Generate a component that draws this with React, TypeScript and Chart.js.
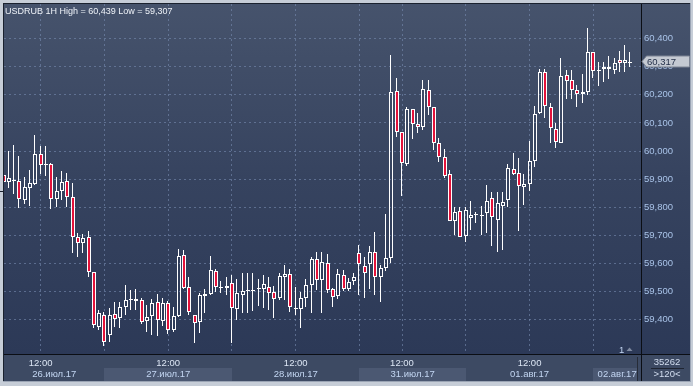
import React, { useEffect, useRef } from 'react';
import { Chart, registerables } from 'chart.js';

Chart.register(...registerables);

// ---- data (USDRUB, 1H candles) ----
const opens = [
  59.915, 59.891, 59.892, 59.893, 59.825, 59.867, 59.881, 59.989, 59.949, 59.954,
  59.828, 59.859, 59.893, 59.835, 59.693, 59.672, 59.694, 59.568, 59.374, 59.416,
  59.345, 59.418, 59.404, 59.443, 59.469, 59.472, 59.468, 59.394, 59.412, 59.461,
  59.395, 59.458, 59.364, 59.411, 59.629, 59.515, 59.415, 59.390, 59.484, 59.490,
  59.574, 59.511, 59.513, 59.529, 59.436, 59.488, 59.501, 59.503, 59.509, 59.508,
  59.516, 59.497, 59.476, 59.552, 59.561, 59.436, 59.437, 59.476, 59.522, 59.614,
  59.541, 59.600, 59.508, 59.482, 59.558, 59.510, 59.538, 59.636, 59.592, 59.597,
  59.639, 59.550, 59.582, 59.618, 60.213, 60.067, 59.954, 60.149, 60.095, 60.087,
  60.216, 60.156, 60.027, 59.980, 59.917, 59.752, 59.785, 59.698, 59.760, 59.771,
  59.769, 59.781, 59.832, 59.755, 59.805, 59.824, 59.935, 59.921, 59.873, 59.882,
  59.963, 60.134, 60.280, 60.156, 60.078, 60.030, 60.270, 60.252, 60.217, 60.203,
  60.209, 60.352, 60.285, 60.298, 60.298, 60.287, 60.323, 60.312, 60.314,
];
const highs = [
  59.922, 60.001, 60.021, 59.982, 59.906, 59.932, 60.057, 60.018, 60.018, 59.957,
  59.909, 59.929, 59.923, 59.887, 59.707, 59.704, 59.716, 59.570, 59.434, 59.428,
  59.441, 59.464, 59.464, 59.523, 59.505, 59.508, 59.476, 59.452, 59.472, 59.490,
  59.476, 59.466, 59.446, 59.651, 59.648, 59.553, 59.416, 59.494, 59.509, 59.626,
  59.579, 59.537, 59.551, 59.560, 59.543, 59.565, 59.567, 59.567, 59.543, 59.558,
  59.550, 59.520, 59.567, 59.594, 59.579, 59.517, 59.498, 59.545, 59.624, 59.639,
  59.641, 59.635, 59.513, 59.580, 59.576, 59.547, 59.565, 59.666, 59.624, 59.662,
  59.711, 59.595, 59.776, 60.342, 60.259, 60.067, 60.158, 60.150, 60.134, 60.253,
  60.253, 60.156, 60.045, 60.006, 59.932, 59.802, 59.802, 59.802, 59.822, 59.783,
  59.804, 59.879, 59.855, 59.855, 59.855, 59.954, 59.993, 59.975, 59.918, 60.036,
  60.160, 60.292, 60.292, 60.170, 60.099, 60.332, 60.289, 60.289, 60.235, 60.274,
  60.439, 60.352, 60.318, 60.318, 60.339, 60.330, 60.357, 60.378, 60.352,
];
const lows = [
  59.883, 59.867, 59.846, 59.798, 59.810, 59.805, 59.879, 59.919, 59.912, 59.794,
  59.802, 59.826, 59.802, 59.636, 59.624, 59.636, 59.550, 59.369, 59.363, 59.307,
  59.321, 59.372, 59.369, 59.416, 59.434, 59.434, 59.384, 59.357, 59.345, 59.342,
  59.377, 59.348, 59.357, 59.408, 59.508, 59.416, 59.318, 59.352, 59.424, 59.487,
  59.499, 59.494, 59.487, 59.318, 59.398, 59.422, 59.424, 59.430, 59.448, 59.441,
  59.434, 59.405, 59.469, 59.469, 59.428, 59.416, 59.369, 59.446, 59.422, 59.505,
  59.422, 59.493, 59.443, 59.474, 59.501, 59.503, 59.523, 59.487, 59.477, 59.509,
  59.487, 59.464, 59.574, 59.602, 60.051, 59.841, 59.947, 60.042, 60.063, 60.075,
  60.129, 60.004, 59.962, 59.903, 59.749, 59.701, 59.694, 59.677, 59.717, 59.743,
  59.701, 59.707, 59.662, 59.642, 59.648, 59.801, 59.916, 59.715, 59.808, 59.859,
  59.942, 60.132, 60.118, 60.028, 60.010, 60.028, 60.185, 60.184, 60.158, 60.170,
  60.200, 60.259, 60.233, 60.247, 60.255, 60.273, 60.282, 60.282, 60.298,
];
const closes = [
  59.891, 59.903, 59.897, 59.828, 59.871, 59.885, 59.989, 59.949, 59.954, 59.828,
  59.858, 59.890, 59.835, 59.695, 59.672, 59.690, 59.570, 59.379, 59.422, 59.321,
  59.416, 59.401, 59.443, 59.469, 59.472, 59.465, 59.390, 59.408, 59.458, 59.398,
  59.459, 59.362, 59.414, 59.626, 59.513, 59.427, 59.387, 59.486, 59.490, 59.575,
  59.516, 59.517, 59.520, 59.440, 59.493, 59.500, 59.505, 59.505, 59.512, 59.525,
  59.496, 59.474, 59.554, 59.561, 59.443, 59.440, 59.476, 59.522, 59.615, 59.540,
  59.604, 59.505, 59.481, 59.561, 59.510, 59.532, 59.553, 59.597, 59.567, 59.639,
  59.550, 59.585, 59.618, 60.209, 60.066, 59.956, 60.149, 60.095, 60.087, 60.220,
  60.156, 60.027, 59.978, 59.912, 59.751, 59.782, 59.695, 59.790, 59.771, 59.775,
  59.772, 59.821, 59.766, 59.814, 59.820, 59.939, 59.919, 59.877, 59.883, 59.963,
  60.132, 60.280, 60.159, 60.081, 60.033, 60.267, 60.250, 60.216, 60.202, 60.209,
  60.353, 60.285, 60.289, 60.291, 60.291, 60.315, 60.313, 60.323, 60.317,
];

const symbolName = 'USDRUB 1H';
const priceTicks = [59.4, 59.5, 59.6, 59.7, 59.8, 59.9, 60.0, 60.1, 60.2, 60.3, 60.4];
const timeTickIndex = [7, 19, 31, 43, 55, 67, 75, 87, 99, 111];
const timeTickLabels = ['12:00', '', '12:00', '', '12:00', '', '12:00', '', '12:00', ''];
const dayStartIndex = [0, 19, 43, 67, 87, 111];
const dayLabels = ['26.июл.17', '27.июл.17', '28.июл.17', '31.июл.17', '01.авг.17', '02.авг.17'];
const dayShaded = [false, true, false, true, false, true];
const barsTotalLabel = '35262';
const zoomLabel = '>120<';
const windowLabel = '1';

const FONT = "'Liberation Sans', Arial, sans-serif";
const RED = '#e3123a';
const fmt = (v: number) => v.toFixed(3).replace('.', ',');

export default function App() {
  const ref = useRef<HTMLCanvasElement | null>(null);

  useEffect(() => {
    const canvas = ref.current;
    if (!canvas) return;

    const idx = opens.map((_, i) => i);
    const bodyData = idx.map((i) => ({ x: i, y: [opens[i], closes[i]] }));
    const upperWick = idx.map((i) => ({ x: i, y: [Math.max(opens[i], closes[i]), highs[i]] }));
    const lowerWick = idx.map((i) => ({ x: i, y: [lows[i], Math.min(opens[i], closes[i])] }));
    const isDown = idx.map((i) => closes[i] < opens[i]);

    const snapPlugin = {
      id: 'snap',
      afterDatasetsUpdate(chart: any) {
        chart.data.datasets.forEach((_ds: any, di: number) => {
          const meta = chart.getDatasetMeta(di);
          meta.data.forEach((el: any) => {
            const cx = Math.round(el.x);
            el.x = di === 0 ? cx : cx - 0.5;
            el.y = Math.round(el.y);
            el.base = Math.round(el.base);
            if (di === 0 && Math.abs(el.y - el.base) < 1) el.base = el.y + 1;
          });
        });
      },
    };

    const bgPlugin = {
      id: 'bg',
      beforeDraw(chart: any) {
        const { ctx, chartArea: ca, width, height } = chart;
        const xs = chart.scales.x;
        ctx.save();
        ctx.fillStyle = '#c6cdd7';
        ctx.fillRect(0, 0, width, height);
        // panel
        const g = ctx.createLinearGradient(0, 4, 0, ca.bottom);
        g.addColorStop(0, '#46536c');
        g.addColorStop(0.5, '#36435f');
        g.addColorStop(1, '#2c3957');
        ctx.fillStyle = g;
        ctx.fillRect(4, 4, 686, ca.bottom - 4);
        // time axis area
        ctx.fillStyle = '#3d4a63';
        ctx.fillRect(4, ca.bottom, 686, 381 - ca.bottom);
        // day bands
        dayStartIndex.forEach((d, k) => {
          if (!dayShaded[k]) return;
          const x0 = k === 0 ? ca.left : Math.round(xs.getPixelForValue(d));
          const x1 = k === dayStartIndex.length - 1 ? ca.right - 4 : Math.round(xs.getPixelForValue(dayStartIndex[k + 1]));
          ctx.fillStyle = '#4b5872';
          ctx.fillRect(x0, 368, x1 - x0, 13);
        });
        // panel border
        ctx.fillStyle = '#1a212e';
        ctx.fillRect(3, 3, 688, 1);
        ctx.fillRect(3, 3, 1, 378);
        ctx.fillStyle = '#9aa4b4';
        ctx.fillRect(690, 3, 1, 378);
        ctx.fillRect(3, 381, 688, 1);
        // tiny left marker
        ctx.fillStyle = '#1a212e';
        ctx.fillRect(0, 191, 3, 1);
        ctx.restore();
      },
      afterDraw(chart: any) {
        const { ctx, chartArea: ca } = chart;
        const xs = chart.scales.x;
        const ys = chart.scales.y;
        ctx.save();
        // separators
        ctx.fillStyle = '#0b0e14';
        ctx.fillRect(4, ca.bottom, 686, 1);
        ctx.fillRect(ca.right, 4, 1, 377);
        ctx.fillStyle = '#262c38';
        ctx.fillRect(ca.right - 4, ca.bottom + 3, 1, 24);
        // day labels
        ctx.font = `9.5px ${FONT}`;
        ctx.textAlign = 'center';
        ctx.textBaseline = 'alphabetic';
        ctx.fillStyle = '#c3d6f2';
        dayStartIndex.forEach((d, k) => {
          const x0 = k === 0 ? ca.left : xs.getPixelForValue(d);
          const x1 = k === dayStartIndex.length - 1 ? ca.right - 4 : xs.getPixelForValue(dayStartIndex[k + 1]);
          ctx.fillText(dayLabels[k], (x0 + x1) / 2 + (k === dayStartIndex.length - 1 ? 2 : 0), 377);
        });
        // corner box
        ctx.fillStyle = '#d3def0';
        ctx.fillText(barsTotalLabel, 667, 365);
        ctx.fillText(zoomLabel, 667, 377);
        ctx.fillStyle = '#1f2532';
        ctx.fillRect(651, 368, 33, 1);
        // window number and chevron
        ctx.textAlign = 'left';
        ctx.fillStyle = '#c3d6f2';
        ctx.fillText(windowLabel, 619, 353);
        ctx.fillStyle = '#7f8aa0';
        ctx.beginPath();
        ctx.moveTo(626.5, 351);
        ctx.lineTo(629.5, 347.5);
        ctx.lineTo(632.5, 351);
        ctx.closePath();
        ctx.fill();
        // last price tag
        const last = closes[closes.length - 1];
        const yc = Math.round(ys.getPixelForValue(last)) - 0.5;
        ctx.beginPath();
        ctx.moveTo(642, yc);
        ctx.lineTo(646.5, yc - 5.5);
        ctx.lineTo(689.5, yc - 5.5);
        ctx.lineTo(689.5, yc + 5.5);
        ctx.lineTo(646.5, yc + 5.5);
        ctx.closePath();
        ctx.fillStyle = '#c4c9d2';
        ctx.fill();
        ctx.strokeStyle = '#7c8494';
        ctx.lineWidth = 1;
        ctx.stroke();
        ctx.fillStyle = '#243049';
        ctx.fillText(fmt(last), 647, yc + 3.8);
        // title
        ctx.font = `9px ${FONT}`;
        ctx.fillStyle = '#eef2f8';
        const title = `${symbolName} High = ${fmt(Math.max(...highs))} Low = ${fmt(Math.min(...lows))}`;
        ctx.fillText(title, 5, 14);
        ctx.restore();
      },
    };

    const gridColor = 'rgba(120,140,176,0.6)';

    const chart = new Chart(canvas, {
      type: 'bar',
      data: {
        datasets: [
          {
            label: 'body',
            data: bodyData as any,
            barThickness: 4,
            borderWidth: 1,
            borderSkipped: false,
            inflateAmount: 0,
            borderColor: '#ffffff',
            backgroundColor: idx.map((i) => (isDown[i] ? RED : 'rgba(0,0,0,0)')),
          } as any,
          {
            label: 'upper',
            data: upperWick as any,
            barThickness: 1,
            borderWidth: 0,
            inflateAmount: 0,
            backgroundColor: '#ffffff',
          } as any,
          {
            label: 'lower',
            data: lowerWick as any,
            barThickness: 1,
            borderWidth: 0,
            inflateAmount: 0,
            backgroundColor: '#ffffff',
          } as any,
        ],
      },
      options: {
        animation: false,
        responsive: false,
        devicePixelRatio: 1,
        events: [],
        layout: { padding: { left: 4, top: 4, right: 0, bottom: 0 } },
        datasets: { bar: { grouped: false } as any },
        plugins: {
          legend: { display: false },
          tooltip: { enabled: false },
          title: { display: false },
        },
        scales: {
          x: {
            type: 'linear',
            min: 0.094,
            max: 119.98,
            offset: false,
            grid: { color: gridColor, lineWidth: 1, drawTicks: false, offset: false } as any,
            border: { display: false, dash: [2, 3] } as any,
            ticks: {
              autoSkip: false,
              maxRotation: 0,
              padding: 4,
              color: '#dce6f4',
              font: { family: FONT, size: 9.5 },
              callback: (_v: any, i: number) => timeTickLabels[i],
            },
            afterBuildTicks: (s: any) => {
              s.ticks = timeTickIndex.map((v) => ({ value: v }));
            },
            afterFit: (s: any) => {
              s.height = 32;
              s.paddingLeft = 0;
              s.paddingRight = 0;
              s.paddingTop = 0;
              s.paddingBottom = 0;
            },
          } as any,
          y: {
            type: 'linear',
            position: 'right',
            min: 59.2771,
            max: 60.5236,
            beginAtZero: false,
            grid: { color: gridColor, lineWidth: 1, drawTicks: false } as any,
            border: { display: false, dash: [2, 3] } as any,
            ticks: {
              padding: 3,
              color: '#a9c3e8',
              font: { family: FONT, size: 9.5 },
              callback: (v: any) => fmt(Number(v)),
            },
            afterBuildTicks: (s: any) => {
              s.ticks = priceTicks.map((v) => ({ value: v }));
            },
            afterFit: (s: any) => {
              s.width = 52;
              s.paddingLeft = 0;
              s.paddingRight = 0;
              s.paddingTop = 0;
              s.paddingBottom = 0;
            },
          } as any,
        },
      },
      plugins: [snapPlugin, bgPlugin],
    } as any);

    return () => chart.destroy();
  }, []);

  return (
    <div style={{ position: 'fixed', left: 0, top: 0, width: 693, height: 386, overflow: 'hidden' }}>
      <canvas ref={ref} width={693} height={386} style={{ display: 'block', width: 693, height: 386 }} />
    </div>
  );
}
